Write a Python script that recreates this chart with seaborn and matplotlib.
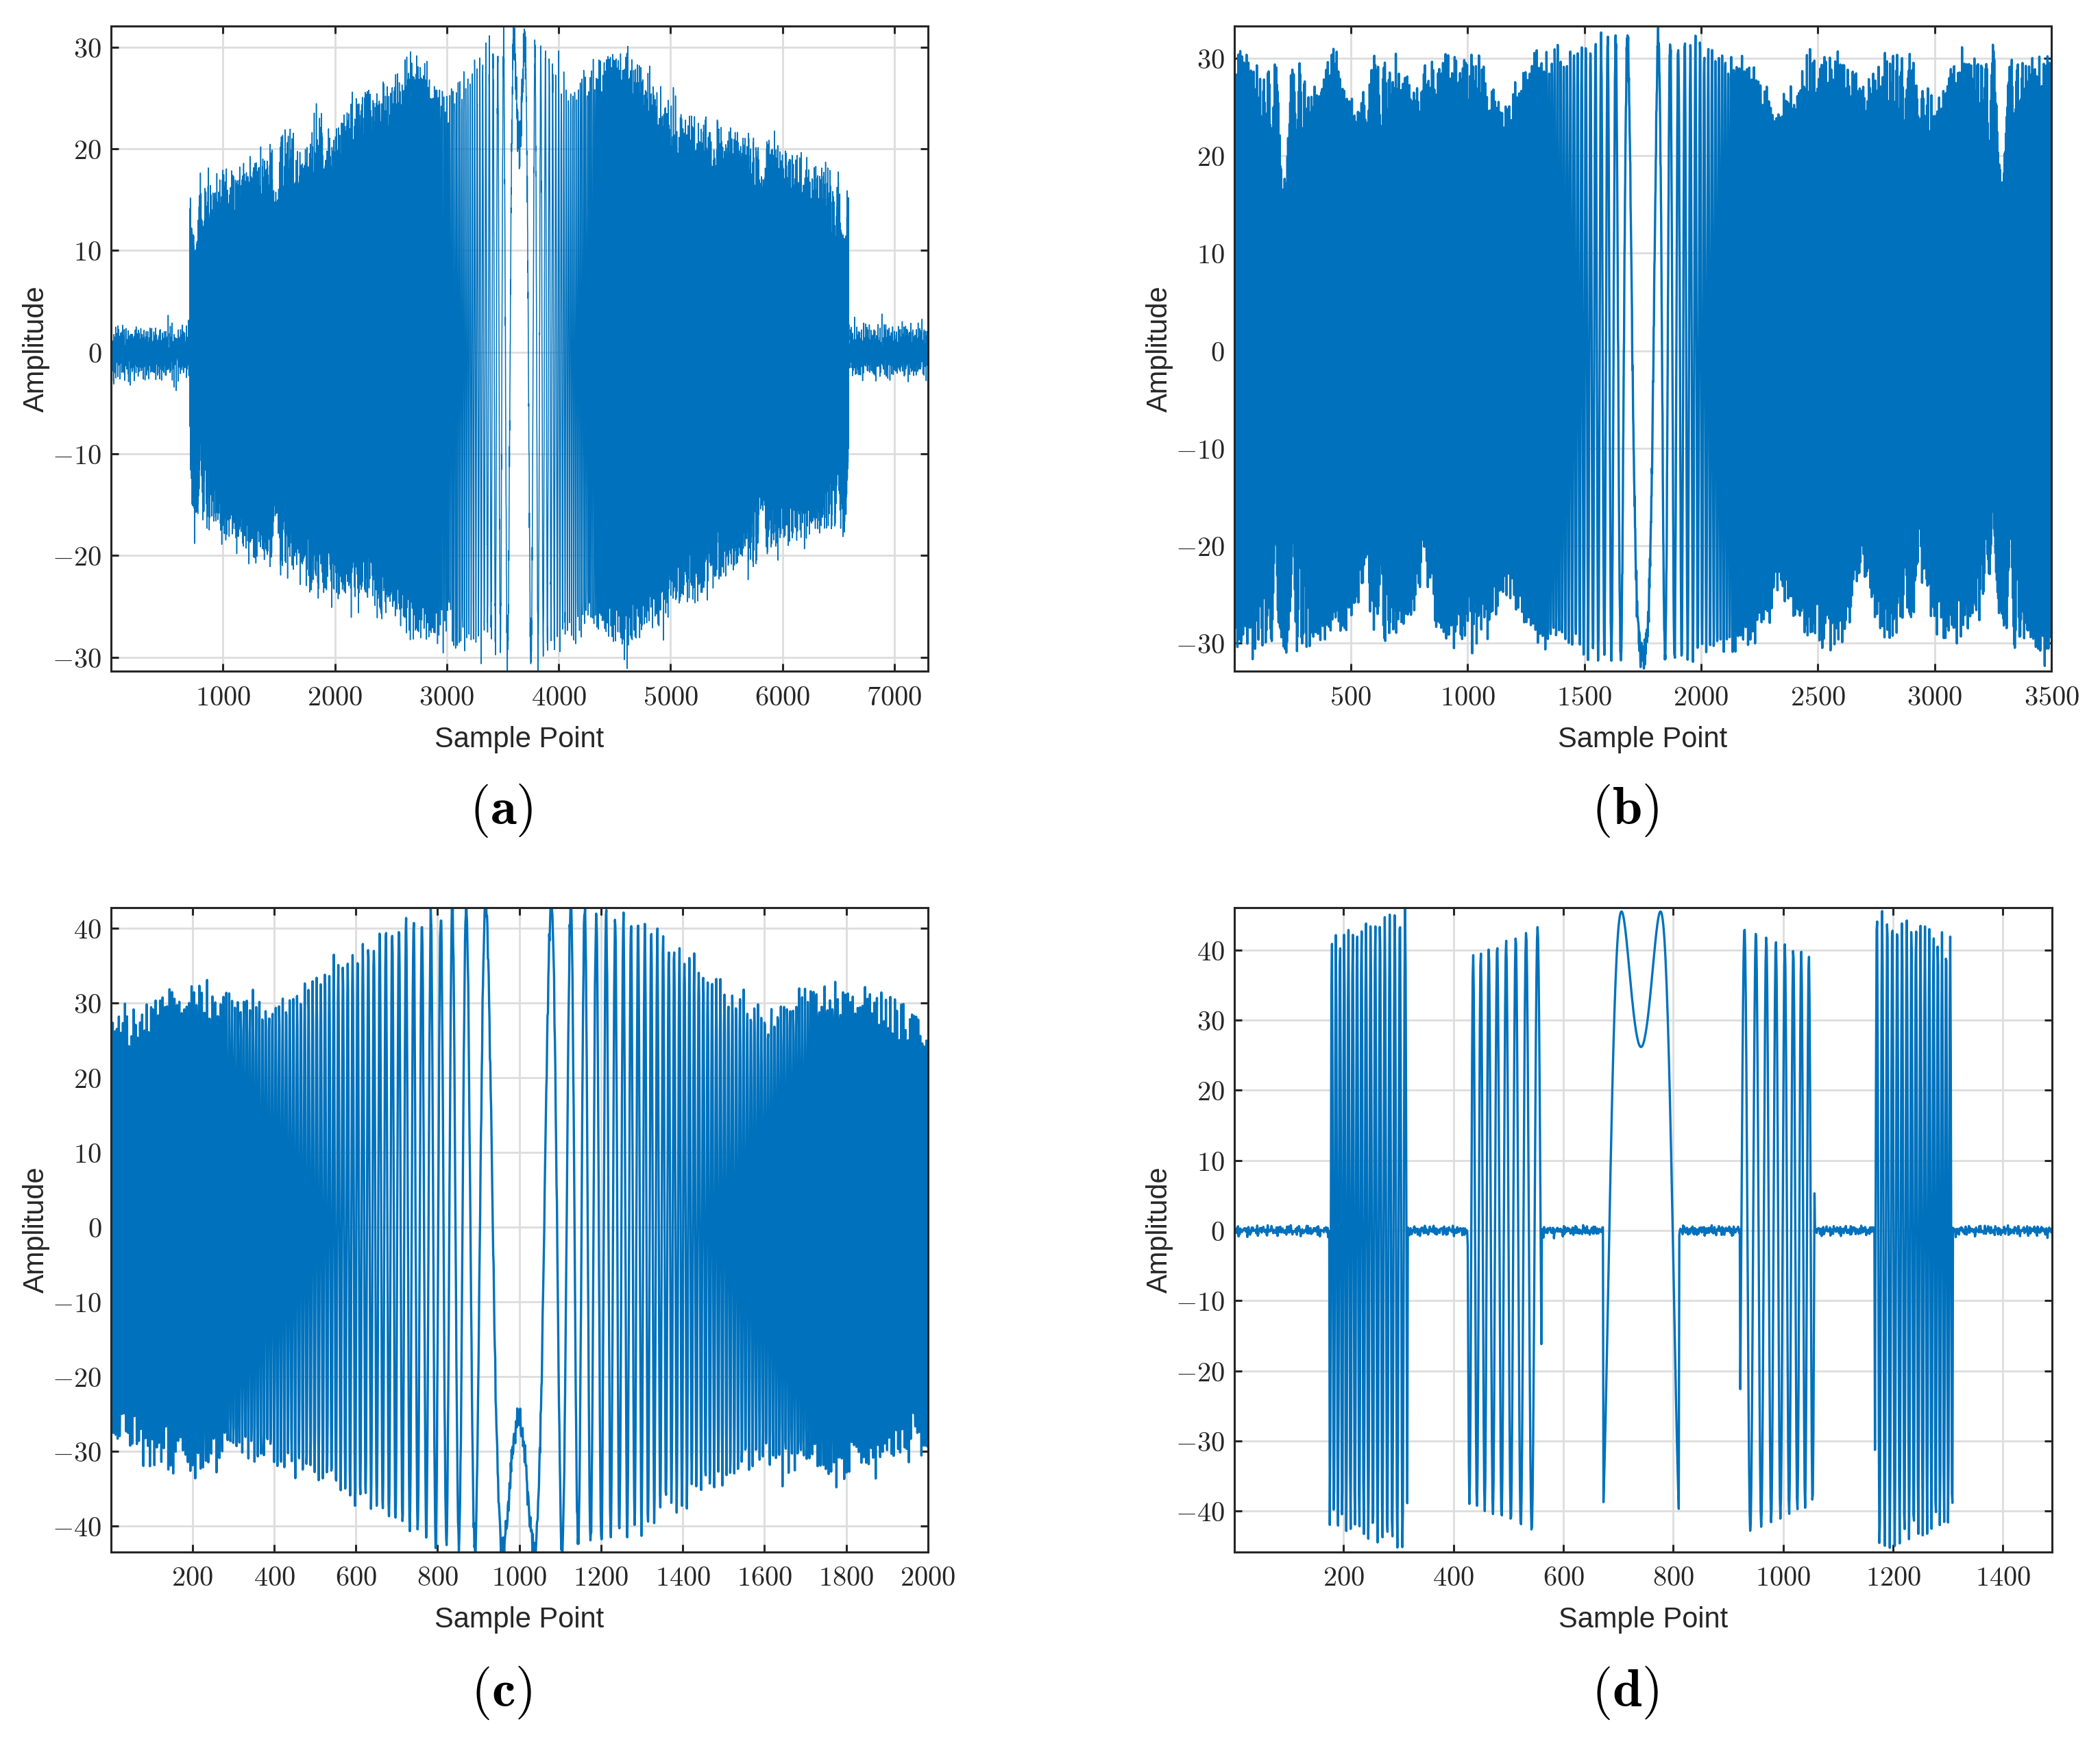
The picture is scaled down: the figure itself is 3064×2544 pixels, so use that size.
#!/usr/bin/env python3
# Received pulse waveforms: LFM pulse, continuous chirps and gated chirp train

import numpy as np
import matplotlib
matplotlib.use('Agg')
import matplotlib.pyplot as plt
import seaborn as sns
from matplotlib.ticker import FuncFormatter

# ---- values -------------------------------------------------------------
# (a) LFM pulse with noise-only padding on both sides
a_len = 7300
a_on = [704, 6590]
a_center = 3648
a_rate = 1.151e-4          # chirp rate, cycles / sample^2
a_phase0 = -0.833
a_top_at = [704, 800, 1000, 1200, 1400, 1600, 1700, 1850, 2000, 2150, 2350, 2500, 2700, 2900,
            3050, 3200, 3400, 3650, 3900, 4150, 4350, 4600, 4800, 5000, 5200, 5400, 5600,
            5800, 6000, 6200, 6400, 6590]
a_top = [14, 15, 16.5, 17.5, 19, 20.5, 18, 22.5, 20.5, 24, 24.5, 25.5, 28.5, 26,
         24.5, 26.5, 29, 30.8, 28.5, 25, 27.5, 29, 26, 23, 22.5, 21.5, 21,
         20.5, 19, 17.5, 16.5, 15]
a_bot_at = [704, 900, 1200, 1400, 1650, 1800, 2000, 2300, 2500, 2800, 3000, 3100, 3400, 3650,
            4000, 4300, 4600, 4800, 5000, 5300, 5600, 5900, 6200, 6590]
a_bot = [14.7, 16.5, 18.5, 20.5, 20.5, 22, 23.7, 23.5, 25, 28, 26.3, 27.3, 27.8, 30.8,
         28, 26, 28.8, 26, 25, 22.6, 20.6, 18.5, 17, 16]
a_noise = 1.2
a_width = 0.55
a_ylim = [-31.4, 32.06]
a_xticks = [1000, 2000, 3000, 4000, 5000, 6000, 7000]
a_yticks = [-30, -20, -10, 0, 10, 20, 30]

# (b) continuous chirp over the whole window
b_len = 3500
b_center = 1751
b_rate = 2.17e-4
b_phase0 = 3.314
b_top_at = [1, 140, 280, 330, 420, 515, 620, 780, 900, 1050, 1155, 1280, 1450, 1600, 1900,
            2050, 2200, 2327, 2450, 2600, 2700, 2800, 2900, 2994, 3100, 3250, 3400, 3500]
b_top = [30, 28, 29.5, 26, 30.5, 24.5, 30, 27, 30, 29.5, 24.5, 29.5, 30.5, 31.8, 31.8,
         30.5, 29.5, 24.5, 29.5, 30, 27, 29.5, 29.5, 24.5, 30, 30, 29.5, 29.5]
b_bot_at = [1, 150, 300, 450, 510, 555, 600, 650, 760, 808, 850, 915, 1050, 1120, 1168, 1220,
            1300, 1450, 1600, 1900, 2050, 2200, 2290, 2340, 2390, 2480, 2600, 2650, 2693, 2740,
            2800, 2900, 2940, 2990, 3050, 3190, 3234, 3280, 3350, 3500]
b_bot = [30, 30, 29.7, 29.5, 27, 22.4, 27, 29, 28, 21.9, 28, 29.7, 29, 27, 23.8, 27,
         29.5, 29.7, 31.5, 31.5, 30, 30, 27, 23.8, 27, 29.5, 29.5, 27, 22.7, 27,
         29.5, 27, 23, 27, 29.5, 27, 22.4, 27, 30, 30]
b_noise = 0.8
b_width = 1.2
b_ylim = [-32.9, 33.3]
b_xticks = [500, 1000, 1500, 2000, 2500, 3000, 3500]
b_yticks = [-30, -20, -10, 0, 10, 20, 30]

# (c) continuous chirp, 2000 samples
c_len = 2000
c_center = 998
c_rate = 2.02e-4
c_phase0 = 2.207
c_top_at = [1, 80, 150, 300, 380, 450, 520, 620, 700, 800, 900, 1100, 1200, 1300, 1380, 1450,
            1525, 1600, 1700, 1850, 1950, 2000]
c_top = [28.5, 29.5, 32, 31.5, 29.5, 30.5, 33.5, 37, 40, 42, 43.3, 43.3, 42, 40, 37.5, 34.5,
         31, 29, 32, 32, 29.5, 25]
c_bot_at = [1, 100, 200, 300, 400, 500, 600, 700, 800, 900, 1100, 1200, 1300, 1400, 1500, 1600,
            1700, 1800, 1900, 2000]
c_bot = [29.5, 31, 33, 31, 31.5, 33.5, 36.5, 39.5, 42, 43.3, 43.3, 42, 39.5, 36.5, 33, 31.5,
         33, 33, 31.5, 29.5]
c_noise = 0.9
c_width = 1.2
c_ylim = [-43.5, 42.7]
c_xticks = [200, 400, 600, 800, 1000, 1200, 1400, 1600, 1800, 2000]
c_yticks = [-40, -30, -20, -10, 0, 10, 20, 30, 40]

# (d) chirp gated into five bursts
d_len = 1489
d_center = 741.3
d_rate = 2.42e-4
d_phase0 = -0.958
d_burst_start = [175, 426, 673, 922, 1167]
d_burst_end = [316, 560, 810, 1057, 1308]
d_burst_phase = [-0.906, -0.851, 0.0, -0.851, -0.906]
d_burst_amp_start = [42, 39, 45.5, 43.5, 46]
d_burst_amp_end = [46, 43.5, 45.5, 39, 42]
d_noise = 0.35
d_width = 1.2
d_ylim = [-45.8, 46.0]
d_xticks = [200, 400, 600, 800, 1000, 1200, 1400]
d_yticks = [-40, -30, -20, -10, 0, 10, 20, 30, 40]

# receiver noise, written as a fixed sum of tones (no random generator)
noise_freqs = [0.0613, 0.1427, 0.1971, 0.2583, 0.3119, 0.3677, 0.4231, 0.4789]
noise_phases = [0.4, 2.1, 4.7, 1.3, 5.5, 3.2, 0.9, 2.8]

line_color = '#0072BD'
axis_color = '#262626'


def chirp(n, center, rate, phase0):
    return np.cos(np.pi * rate * (n - center) ** 2 + phase0)


def shaped(n, carrier, top_at, top, bot_at, bot):
    up = np.interp(n, top_at, top)
    dn = np.interp(n, bot_at, bot)
    return carrier * np.where(carrier > 0, up, dn)


def noise(n, level):
    out = np.zeros(len(n))
    for f, p in zip(noise_freqs, noise_phases):
        out += np.sin(2 * np.pi * f * n + p)
    return level * out / np.sqrt(len(noise_freqs) / 2)


# ---- build the four records ---------------------------------------------
n_a = np.arange(1, a_len + 1)
sig_a = noise(n_a, a_noise)
on = (n_a >= a_on[0]) & (n_a <= a_on[1])
sig_a[on] += shaped(n_a[on], chirp(n_a[on], a_center, a_rate, a_phase0),
                    a_top_at, a_top, a_bot_at, a_bot)

n_b = np.arange(1, b_len + 1)
sig_b = noise(n_b, b_noise) + shaped(n_b, chirp(n_b, b_center, b_rate, b_phase0),
                                     b_top_at, b_top, b_bot_at, b_bot)

n_c = np.arange(1, c_len + 1)
sig_c = noise(n_c, c_noise) + shaped(n_c, chirp(n_c, c_center, c_rate, c_phase0),
                                     c_top_at, c_top, c_bot_at, c_bot)

n_d = np.arange(1, d_len + 1)
sig_d = noise(n_d, d_noise)
for s, e, ph, a0, a1 in zip(d_burst_start, d_burst_end, d_burst_phase,
                            d_burst_amp_start, d_burst_amp_end):
    m = (n_d >= s) & (n_d <= e)
    sig_d[m] = np.interp(n_d[m], [s, e], [a0, a1]) * chirp(n_d[m], d_center, d_rate, d_phase0 + ph)

# ---- style ---------------------------------------------------------------
sns.set_style('ticks')
plt.rcParams['font.family'] = ['Liberation Sans', 'DejaVu Sans']
plt.rcParams['mathtext.fontset'] = 'cm'

fig = plt.figure(figsize=(15.32, 12.72), dpi=200)

panels = [
    (n_a, sig_a, a_len, a_ylim, a_xticks, a_yticks, a_width, [0.0529, 0.615, 0.389, 0.370], 'a', [0.2388, 0.535]),
    (n_b, sig_b, b_len, b_ylim, b_xticks, b_yticks, b_width, [0.5877, 0.615, 0.3892, 0.370], 'b', [0.7739, 0.535]),
    (n_c, sig_c, c_len, c_ylim, c_xticks, c_yticks, c_width, [0.0529, 0.1102, 0.389, 0.3692], 'c', [0.2388, 0.0293]),
    (n_d, sig_d, d_len, d_ylim, d_xticks, d_yticks, d_width, [0.5877, 0.1102, 0.3894, 0.3692], 'd', [0.7739, 0.0293]),
]

tick_fmt = FuncFormatter(lambda v, p: f'${v:g}$')

for n, sig, length, ylim, xticks, yticks, lw, rect, tag, tag_xy in panels:
    ax = fig.add_axes(rect)
    sns.lineplot(x=n, y=sig, ax=ax, color=line_color, linewidth=lw,
                 estimator=None, errorbar=None, sort=False)
    ax.set_xlim(1, length)
    ax.set_ylim(ylim)
    ax.set_xticks(xticks)
    ax.set_yticks(yticks)
    ax.xaxis.set_major_formatter(tick_fmt)
    ax.yaxis.set_major_formatter(tick_fmt)
    ax.grid(True, color='#dddddd', linewidth=1.0)
    ax.set_axisbelow(True)
    ax.tick_params(direction='in', top=True, right=True, length=4, width=1.1,
                   colors=axis_color, labelsize=14.5, labelcolor=axis_color)
    ax.tick_params(axis='x', pad=7)
    ax.tick_params(axis='y', pad=5)
    for sp in ax.spines.values():
        sp.set_visible(True)
        sp.set_linewidth(1.1)
        sp.set_color(axis_color)
    ax.set_xlabel('Sample Point', fontsize=15, color=axis_color, labelpad=8)
    ax.set_ylabel('Amplitude', fontsize=15, color=axis_color, labelpad=1)
    fig.text(tag_xy[0], tag_xy[1], r'$(\mathbf{' + tag + '})$', ha='center', va='center',
             fontsize=28, color='black')

fig.savefig('out.png', dpi=200)
